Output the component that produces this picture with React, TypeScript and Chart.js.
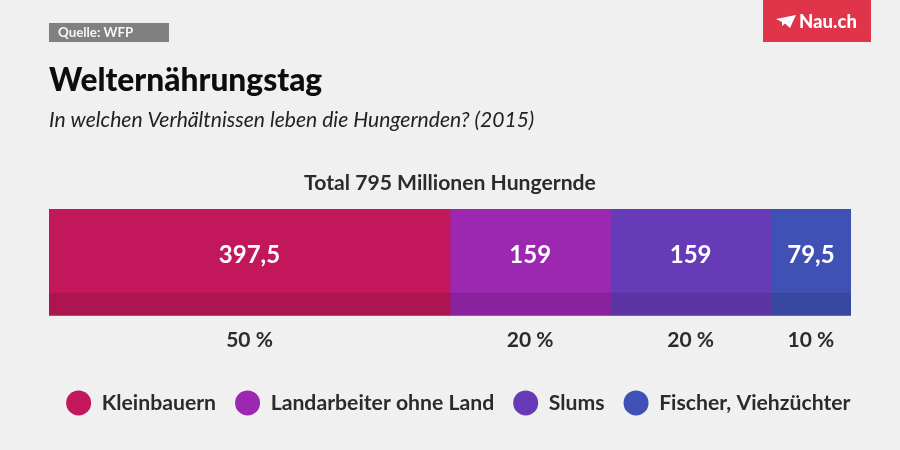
import React, { useEffect, useRef } from "react";
import { Chart, registerables } from "chart.js";

Chart.register(...registerables);

const categories = ["Total"];
const seriesNames = ["Kleinbauern", "Landarbeiter ohne Land", "Slums", "Fischer, Viehzüchter"];
const seriesValues = [397.5, 159, 159, 79.5];
const valueLabels = ["397,5", "159", "159", "79,5"];
const percentLabels = ["50 %", "20 %", "20 %", "10 %"];
const seriesColors = ["#C2185B", "#9C27B0", "#673AB7", "#3F51B5"];
const totalValue = 795;
const titleText = "Welternährungstag";
const subtitleText = "In welchen Verhältnissen leben die Hungernden? (2015)";
const totalText = "Total 795 Millionen Hungernde";
const sourceText = "Quelle: WFP";
const logoText = "Nau.ch";

const FONT = "Lato, sans-serif";
const INK = "#2b2b2b";

const decorPlugin = {
  id: "decor",
  beforeDraw(chart: any) {
    const { ctx, width, height } = chart;
    ctx.save();
    ctx.fillStyle = "#F0F0F0";
    ctx.fillRect(0, 0, width, height);
    ctx.restore();
  },
  afterDatasetsDraw(chart: any) {
    const { ctx, chartArea } = chart;
    ctx.save();
    // darker strip along the foot of the bar
    const stripTop = chartArea.bottom - 23;
    ctx.fillStyle = "rgba(0,0,0,0.105)";
    ctx.fillRect(chartArea.left, stripTop, chartArea.right - chartArea.left, 23);

    // value labels in each segment
    ctx.fillStyle = "#FFFFFF";
    ctx.font = `700 24px ${FONT}`;
    ctx.textAlign = "center";
    ctx.textBaseline = "middle";
    chart.data.datasets.forEach((_: any, i: number) => {
      const el = chart.getDatasetMeta(i).data[0];
      const c = el.getCenterPoint();
      ctx.fillText(valueLabels[i], c.x, chartArea.top + 46.5);
    });

    // heading over the bar
    ctx.fillStyle = INK;
    ctx.font = `700 21.15px ${FONT}`;
    ctx.fillText(totalText, (chartArea.left + chartArea.right) / 2, chartArea.top - 26);

    // title and subtitle
    ctx.textAlign = "left";
    ctx.fillStyle = "#0D0D0D";
    ctx.font = `900 31.7px ${FONT}`;
    ctx.fillText(titleText, 49, 81);
    ctx.fillStyle = "#222222";
    ctx.font = `italic 400 21.1px ${FONT}`;
    ctx.fillText(subtitleText, 49, 120);

    // source badge
    ctx.fillStyle = "#808080";
    ctx.fillRect(49, 23, 120, 19);
    ctx.fillStyle = "#F5F5F5";
    ctx.font = `700 13.3px ${FONT}`;
    ctx.fillText(sourceText, 58, 33);

    // logo
    ctx.fillStyle = "#E0344A";
    ctx.fillRect(763, 0, 108, 42);
    ctx.fillStyle = "#FFFFFF";
    ctx.beginPath();
    ctx.moveTo(776, 19);
    ctx.lineTo(796, 15);
    ctx.lineTo(790, 28);
    ctx.lineTo(785, 23.5);
    ctx.lineTo(782, 26);
    ctx.lineTo(782, 22);
    ctx.closePath();
    ctx.fill();
    ctx.font = `900 18.5px ${FONT}`;
    ctx.fillText(logoText, 799, 22);
    ctx.restore();
  },
};

export default function App() {
  const ref = useRef<HTMLCanvasElement>(null);
  useEffect(() => {
    document.body.style.margin = "0";
    const centers: number[] = [];
    let run = 0;
    seriesValues.forEach((v) => {
      centers.push(run + v / 2);
      run += v;
    });
    const chart = new Chart(ref.current as HTMLCanvasElement, {
      type: "bar",
      data: {
        labels: categories,
        datasets: seriesNames.map((name, i) => ({
          label: name,
          data: [seriesValues[i]],
          backgroundColor: seriesColors[i],
          borderWidth: 0,
          barPercentage: 1,
          categoryPercentage: 1,
        })),
      },
      options: {
        indexAxis: "y",
        responsive: false,
        animation: false,
        layout: { padding: { left: 0, right: 30.5, top: 209, bottom: 26.5 } },
        scales: {
          x: {
            stacked: true,
            min: 0,
            max: totalValue,
            grid: { display: false },
            border: { display: false },
            afterBuildTicks: (axis: any) => {
              axis.ticks = centers.map((value) => ({ value }));
            },
            afterFit: (axis: any) => {
              axis.height = 57.5;
            },
            ticks: {
              autoSkip: false,
              maxRotation: 0,
              padding: 4,
              color: INK,
              font: { family: FONT, size: 21, weight: "bold" },
              callback: (_v: any, i: number) => percentLabels[i],
            },
          },
          y: {
            stacked: true,
            grid: { display: false },
            border: { display: false },
            ticks: { display: false },
            afterFit: (axis: any) => {
              axis.width = 49;
            },
          },
          yInset: {
            type: "linear",
            position: "right",
            grid: { display: false },
            border: { display: false },
            ticks: { display: false },
            afterFit: (axis: any) => {
              axis.width = 18.5;
            },
          },
        },
        plugins: {
          title: { display: false },
          legend: {
            display: true,
            position: "bottom",
            align: "end",
            labels: {
              usePointStyle: true,
              pointStyle: "circle",
              boxHeight: 17.7,
              pointStyleWidth: 25,
              padding: 19,
              color: INK,
              font: { family: FONT, size: 21.2, weight: "bold" },
            },
          },
          tooltip: { enabled: false },
        },
      } as any,
      plugins: [decorPlugin],
    });
    return () => chart.destroy();
  }, []);
  return (
    <div style={{ width: 900, height: 450 }}>
      <canvas ref={ref} width={900} height={450} style={{ display: "block" }} />
    </div>
  );
}
